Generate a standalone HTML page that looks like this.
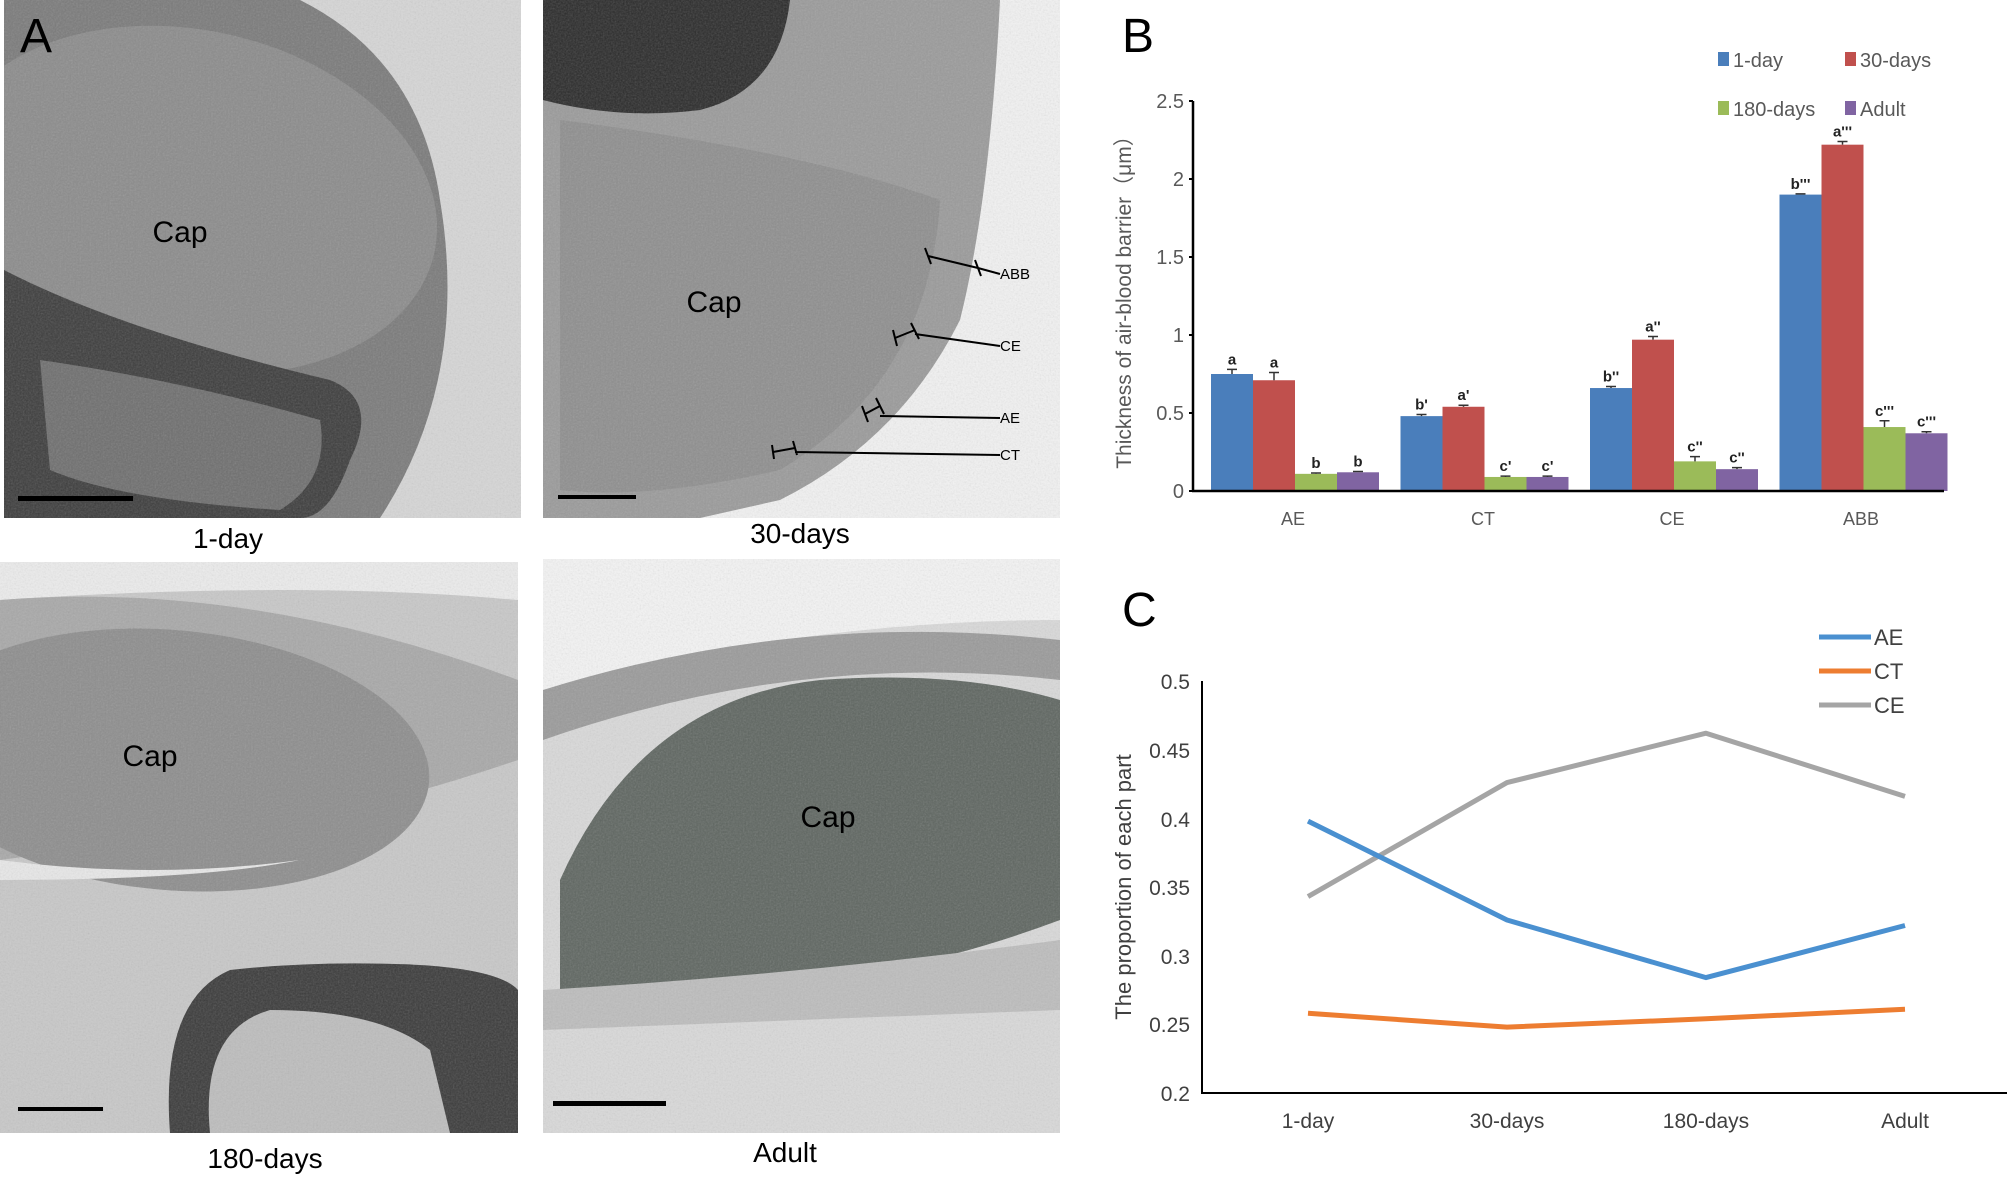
<!DOCTYPE html>
<html><head><meta charset="utf-8"><style>
html,body{margin:0;padding:0;background:#fff;}
svg{display:block;font-family:"Liberation Sans",Arial,sans-serif;}
</style></head><body>
<svg width="2007" height="1179" viewBox="0 0 2007 1179" xmlns="http://www.w3.org/2000/svg">
<defs>
<filter id="n1"><feTurbulence type="fractalNoise" baseFrequency="0.6" numOctaves="2" seed="3"/><feColorMatrix type="saturate" values="0"/><feComponentTransfer><feFuncA type="linear" slope="0.25"/></feComponentTransfer></filter>
<clipPath id="c1"><rect x="4" y="0" width="517" height="518"/></clipPath>
<clipPath id="c2"><rect x="543" y="0" width="517" height="518"/></clipPath>
<clipPath id="c3"><rect x="0" y="562" width="518" height="571"/></clipPath>
<clipPath id="c4"><rect x="543" y="559" width="517" height="574"/></clipPath>
</defs>
<rect width="2007" height="1179" fill="#fff"/>

<!-- Photo TL -->
<g clip-path="url(#c1)">
<rect x="4" y="0" width="517" height="518" fill="#d6d6d6"/>
<path d="M4 0 H300 Q420 60 440 200 Q470 380 380 518 H4 Z" fill="#7a7a7a"/>
<ellipse cx="190" cy="200" rx="250" ry="170" fill="#8b8b8b" transform="rotate(12 190 200)"/>
<path d="M4 270 Q120 330 330 380 Q380 400 350 460 Q330 518 300 518 H4 Z" fill="#3c3c3c"/>
<path d="M40 360 Q180 380 320 420 Q330 480 280 510 Q120 500 50 470 Z" fill="#6e6e6e"/>
<rect x="4" y="0" width="517" height="518" filter="url(#n1)"/>
<rect x="18" y="496" width="115" height="5" fill="#000"/>
</g>
<text x="20" y="52" font-size="48" fill="#000">A</text>
<text x="180" y="242" font-size="30" fill="#000" text-anchor="middle">Cap</text>
<text x="228" y="548" font-size="28" text-anchor="middle">1-day</text>

<!-- Photo TR -->
<g clip-path="url(#c2)">
<rect x="543" y="0" width="517" height="518" fill="#f2f2f2"/>
<path d="M543 0 H1000 Q990 200 960 320 Q900 440 780 500 L700 518 H543 Z" fill="#9a9a9a"/>
<path d="M560 120 Q800 150 940 200 Q930 380 780 470 Q650 500 560 490 Z" fill="#8e8e8e"/>
<path d="M543 0 H790 Q780 90 700 110 Q620 120 543 100 Z" fill="#2a2a2a"/>
<rect x="543" y="0" width="517" height="518" filter="url(#n1)"/>
<rect x="558" y="495" width="78" height="4" fill="#000"/>
<g stroke="#000" stroke-width="2" fill="none">
<path d="M928 256 L978 268 M925 248 L931 264 M975 260 L981 276 M978 268 L1000 274"/>
<path d="M895 338 L915 330 M893 330 L897 346 M911 323 L919 339 M915 334 L1000 346"/>
<path d="M865 414 L880 406 M862 406 L868 422 M876 398 L884 414 M880 416 L1000 418"/>
<path d="M773 452 L795 448 M772 445 L774 459 M793 441 L797 455 M795 452 L1000 455"/>
</g>
<text x="1000" y="279" font-size="15">ABB</text>
<text x="1000" y="351" font-size="15">CE</text>
<text x="1000" y="423" font-size="15">AE</text>
<text x="1000" y="460" font-size="15">CT</text>
</g>
<text x="714" y="312" font-size="30" text-anchor="middle">Cap</text>
<text x="800" y="543" font-size="28" text-anchor="middle">30-days</text>

<!-- Photo BL -->
<g clip-path="url(#c3)">
<rect x="0" y="562" width="518" height="571" fill="#c8c8c8"/>
<path d="M0 562 H518 V600 Q300 580 0 600 Z" fill="#ececec"/>
<path d="M0 600 Q250 580 518 680 V760 Q400 800 300 820 L0 860 Z" fill="#a8a8a8"/>
<ellipse cx="170" cy="760" rx="260" ry="130" fill="#8d8d8d" transform="rotate(5 170 760)"/>
<path d="M0 860 Q150 880 300 860 Q200 880 0 880 Z" fill="#e8e8e8"/>
<path d="M170 1133 Q160 1000 230 970 Q320 960 420 965 Q500 970 518 990 V1133 Z" fill="#3a3a3a"/>
<path d="M210 1133 Q200 1030 270 1010 Q380 1010 430 1050 L450 1133 Z" fill="#bdbdbd"/>
<rect x="0" y="562" width="518" height="571" filter="url(#n1)"/>
<rect x="18" y="1107" width="85" height="4" fill="#000"/>
</g>
<text x="150" y="766" font-size="30" text-anchor="middle">Cap</text>
<text x="265" y="1168" font-size="28" text-anchor="middle">180-days</text>

<!-- Photo BR -->
<g clip-path="url(#c4)">
<rect x="543" y="559" width="517" height="574" fill="#d9d9d9"/>
<path d="M543 559 H1060 V620 Q800 620 543 690 Z" fill="#f4f4f4"/>
<path d="M543 690 Q800 610 1060 640 V680 Q800 650 543 740 Z" fill="#9a9a9a"/>
<path d="M560 880 Q640 700 820 680 Q960 670 1060 700 V920 Q900 980 750 985 Q620 990 560 990 Z" fill="#5e6560"/>
<path d="M543 990 Q800 975 1060 940 V1010 Q800 1020 543 1030 Z" fill="#bdbdbd"/>
<rect x="543" y="559" width="517" height="574" filter="url(#n1)"/>
<rect x="553" y="1101" width="113" height="5" fill="#000"/>
</g>
<text x="828" y="827" font-size="30" text-anchor="middle">Cap</text>
<text x="785" y="1162" font-size="28" text-anchor="middle">Adult</text>

<!-- Chart B -->
<text x="1122" y="52" font-size="48">B</text>
<g font-size="20" fill="#595959">
<rect x="1718" y="52" width="11" height="14" fill="#4a7ebb"/><text x="1733" y="67">1-day</text>
<rect x="1845" y="52" width="11" height="14" fill="#c0504d"/><text x="1860" y="67">30-days</text>
<rect x="1718" y="101" width="11" height="14" fill="#9bbb59"/><text x="1733" y="116">180-days</text>
<rect x="1845" y="101" width="11" height="14" fill="#8064a2"/><text x="1860" y="116">Adult</text>
</g>
<g font-size="20" fill="#595959" text-anchor="end">
<text x="1184" y="498">0</text><text x="1184" y="420">0.5</text><text x="1184" y="342">1</text>
<text x="1184" y="264">1.5</text><text x="1184" y="186">2</text><text x="1184" y="108">2.5</text>
</g>
<text transform="translate(1131 297) rotate(-90)" font-size="21" fill="#595959" text-anchor="middle">Thickness of air-blood barrier（μm）</text>
<g id="bars"></g>
<g font-size="18" fill="#595959" text-anchor="middle">
<text x="1293" y="525">AE</text><text x="1483" y="525">CT</text><text x="1672" y="525">CE</text><text x="1861" y="525">ABB</text>
</g>

<!-- Chart C -->
<text x="1122" y="626" font-size="48">C</text>
<g stroke-width="5" fill="none">
<line x1="1819" y1="637" x2="1871" y2="637" stroke="#4a90d0"/>
<line x1="1819" y1="671" x2="1871" y2="671" stroke="#ed7d31"/>
<line x1="1819" y1="705" x2="1871" y2="705" stroke="#a5a5a5"/>
</g>
<g font-size="22" fill="#404040">
<text x="1874" y="645">AE</text><text x="1874" y="679">CT</text><text x="1874" y="713">CE</text>
</g>
<line x1="1202" y1="681" x2="1202" y2="1093" stroke="#000" stroke-width="2"/>
<line x1="1201" y1="1093" x2="2007" y2="1093" stroke="#000" stroke-width="2"/>
<g font-size="21" fill="#404040" text-anchor="end">
<text x="1190" y="689">0.5</text><text x="1190" y="758">0.45</text><text x="1190" y="827">0.4</text>
<text x="1190" y="895">0.35</text><text x="1190" y="964">0.3</text><text x="1190" y="1032">0.25</text><text x="1190" y="1101">0.2</text>
</g>
<text transform="translate(1131 887) rotate(-90)" font-size="22" fill="#404040" text-anchor="middle">The proportion of each part</text>
<g font-size="21" fill="#404040" text-anchor="middle">
<text x="1308" y="1128">1-day</text><text x="1507" y="1128">30-days</text><text x="1706" y="1128">180-days</text><text x="1905" y="1128">Adult</text>
</g>
<g stroke-width="5" fill="none" stroke-linejoin="round">
<polyline stroke="#a5a5a5" points="1308,898 1507,584 1706,722 1905,795" transform="translate(0,0)"/>
</g>
</svg>
<script>
(function(){
var ns="http://www.w3.org/2000/svg",svg=document.querySelector("svg");
// fix C CE polyline computed from values
function yc(v){return 1093-(v-0.2)/0.3*412;}
var xs=[1308,1507,1706,1905];
var pl=svg.querySelector("polyline");pl.parentNode.removeChild(pl);
var series=[["#a5a5a5",[.343,.426,.462,.416]],["#4a90d0",[.398,.326,.284,.322]],["#ed7d31",[.258,.248,.254,.261]]];
series.forEach(function(s){var p=document.createElementNS(ns,"polyline");
p.setAttribute("points",s[1].map(function(v,i){return xs[i]+","+yc(v).toFixed(1)}).join(" "));
p.setAttribute("stroke",s[0]);p.setAttribute("stroke-width","5");p.setAttribute("fill","none");p.setAttribute("stroke-linejoin","round");svg.appendChild(p);});
// bars
var g=document.getElementById("bars");
var cols=["#4a7ebb","#c0504d","#9bbb59","#8064a2"];
var data=[[.75,.71,.11,.12],[.48,.54,.09,.09],[.66,.97,.19,.14],[1.9,2.22,.41,.37]];
var err=[[.03,.05,.005,.005],[.01,.01,.005,.005],[.01,.02,.03,.01],[.005,.02,.04,.01]];
var lab=[["a","a","b","b"],["b'","a'","c'","c'"],["b''","a''","c''","c''"],["b'''","a'''","c'''","c'''"]];
function yb(v){return 491-v*156;}
var h='';
for(var gi=0;gi<4;gi++)for(var b=0;b<4;b++){
 var x=1211+gi*189.5+b*42,v=data[gi][b],y=yb(v);
 h+='<rect x="'+x+'" y="'+y+'" width="42" height="'+(491-y)+'" fill="'+cols[b]+'"/>';
 var ye=yb(v+err[gi][b]);
 h+='<path d="M'+(x+21)+' '+y+'V'+ye+'M'+(x+16)+' '+ye+'H'+(x+26)+'" stroke="#333" stroke-width="1.5"/>';
 h+='<text x="'+(x+21)+'" y="'+(ye-5)+'" font-size="15" font-weight="bold" text-anchor="middle" fill="#222">'+lab[gi][b]+'</text>';
}
h+='<line x1="1193" y1="101" x2="1193" y2="492" stroke="#000" stroke-width="2.5"/>';
h+='<line x1="1192" y1="491" x2="1944" y2="491" stroke="#000" stroke-width="2.5"/>';
for(var t=0;t<6;t++)h+='<line x1="1189" y1="'+(491-t*78)+'" x2="1193" y2="'+(491-t*78)+'" stroke="#000" stroke-width="2"/>';
g.innerHTML=h;
})();
</script>
</body></html>
